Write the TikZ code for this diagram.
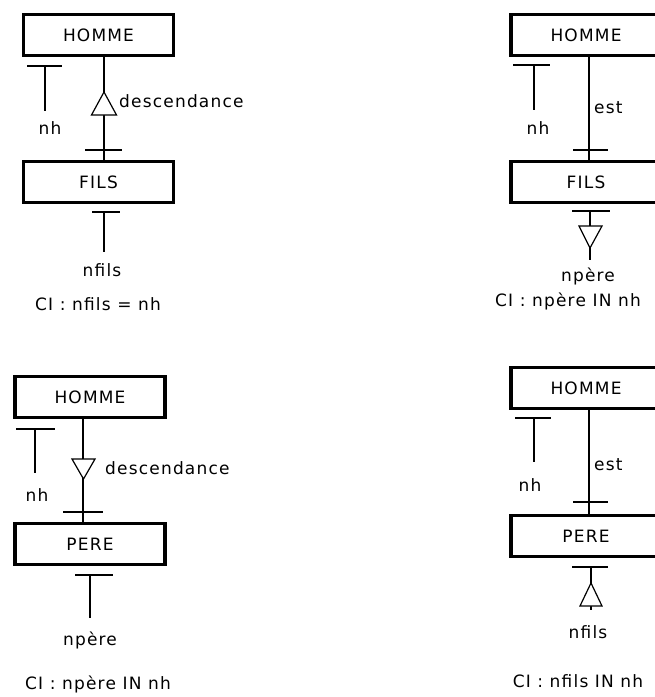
\documentclass[tikz,border=0pt]{standalone}
\usepackage{fontspec}
\setmainfont{DejaVu Sans}[LetterSpace=7]
\begin{document}
\begin{tikzpicture}[x=1pt,y=-1pt,
  font=\fontsize{17}{19}\selectfont,
  ent/.style={draw, line width=3.2pt, minimum width=150pt, minimum height=41pt, inner sep=0pt},
  ln/.style={line width=1.2pt},
  lbl/.style={inner sep=1pt}]
\clip (0,0) rectangle (655,697);
\fill[white] (0,0) rectangle (655,697);

% ---------- top left ----------
\node[ent] (h1) at (98.5,35) {HOMME};
\node[ent] (f1) at (98.5,182) {FILS};
\draw[ln] (27,66) -- (62,66);
\draw[ln] (45,66) -- (45,111);
\node[lbl] (nh1) at (50,128) {nh};
\draw[ln] ([xshift=5.5pt]h1.south) -- ([xshift=5.5pt]f1.north);
\draw[ln, fill=white] (104,92) -- (116.5,115) -- (91.5,115) -- cycle;
\draw[ln] (85,150) -- (122,150);
\node[lbl, anchor=west] (d1) at (118,101) {descendance};
\draw[ln] (92,212) -- (120,212);
\coordinate (e1) at (104,252);
\draw[ln] (104,212) -- (e1);
\node[lbl] (nf1) at (102,270) {nfils};
\node[lbl] (ci1) at (98,304) {CI : nfils = nh};

% ---------- top right ----------
\node[ent] (h2) at (586,35) {HOMME};
\node[ent] (f2) at (586,182) {FILS};
\draw[ln] (513,65) -- (550,65);
\draw[ln] (534,65) -- (534,110);
\node[lbl] (nh2) at (538,128) {nh};
\draw[ln] ([xshift=3pt]h2.south) -- ([xshift=3pt]f2.north);
\node[lbl, anchor=west] (est2) at (593,108) {est};
\draw[ln] (573,150) -- (608,150);
\draw[ln] (572,211) -- (610,211);
\coordinate (e2) at (590,260);
\draw[ln] (590,211) -- (e2);
\draw[ln, fill=white] (579,226) -- (602,226) -- (590,248) -- cycle;
\node[lbl] (np2) at (588,276) {npère};
\node[lbl] (ci2) at (568,301) {CI : npère IN nh};

% ---------- bottom left ----------
\node[ent] (h3) at (90,397) {HOMME};
\node[ent] (p3) at (90,544) {PERE};
\draw[ln] (16,429) -- (55,429);
\draw[ln] (35,429) -- (35,473);
\node[lbl] (nh3) at (37,495) {nh};
\draw[ln] ([xshift=-7pt]h3.south) -- ([xshift=-7pt]p3.north);
\draw[ln, fill=white] (72,459) -- (95,459) -- (83.5,479) -- cycle;
\node[lbl, anchor=west] (d3) at (104,468) {descendance};
\draw[ln] (63,512) -- (103,512);
\draw[ln] (75,575) -- (113,575);
\coordinate (e3) at (90,618);
\draw[ln] (90,575) -- (e3);
\node[lbl] (np3) at (90,640) {npère};
\node[lbl] (ci3) at (98,684) {CI : npère IN nh};

% ---------- bottom right ----------
\node[ent] (h4) at (586,388) {HOMME};
\node[ent] (p4) at (586,536) {PERE};
\draw[ln] (515,418) -- (551,418);
\draw[ln] (534,418) -- (534,462);
\node[lbl] (nh4) at (530,485) {nh};
\draw[ln] ([xshift=3pt]h4.south) -- ([xshift=3pt]p4.north);
\node[lbl, anchor=west] (est4) at (593,465) {est};
\draw[ln] (573,502) -- (608,502);
\draw[ln] (572,567) -- (608,567);
\coordinate (e4) at (591,610);
\draw[ln] (591,567) -- (e4);
\draw[ln, fill=white] (591,583) -- (602,606) -- (580,606) -- cycle;
\node[lbl] (nf4) at (588,632) {nfils};
\node[lbl] (ci4) at (578,681) {CI : nfils IN nh};
\end{tikzpicture}
\end{document}
